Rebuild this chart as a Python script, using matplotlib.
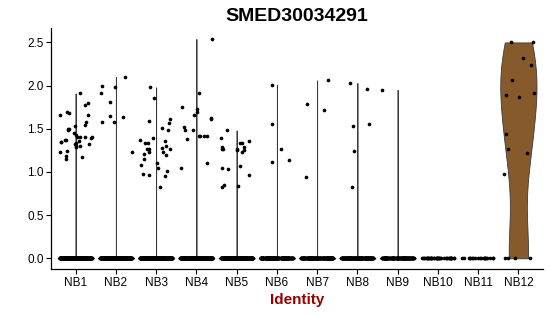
import numpy as np
import matplotlib
matplotlib.use('Agg')
import matplotlib.pyplot as plt

plt.rcParams['font.family'] = ['Liberation Sans', 'DejaVu Sans']

# identidades y expresion (valores no nulos)
idents = ['NB1', 'NB2', 'NB3', 'NB4', 'NB5', 'NB6', 'NB7', 'NB8', 'NB9', 'NB10', 'NB11', 'NB12']

nb1 = [1.91, 1.80, 1.78, 1.70, 1.68, 1.66, 1.66, 1.58, 1.54, 1.53, 1.50, 1.50, 1.48, 1.45,
       1.43, 1.41, 1.41, 1.41, 1.41, 1.39, 1.37, 1.37, 1.36, 1.35, 1.35, 1.33, 1.32, 1.32,
       1.30, 1.30, 1.29, 1.24, 1.23, 1.19, 1.17, 1.15]
nb2 = [2.10, 2.00, 1.98, 1.92, 1.81, 1.65, 1.64, 1.58, 1.58, 1.23]
nb3 = [1.98, 1.86, 1.61, 1.59, 1.57, 1.51, 1.49, 1.39, 1.37, 1.36, 1.34, 1.33, 1.30, 1.28,
       1.27, 1.26, 1.26, 1.23, 1.23, 1.21, 1.20, 1.15, 1.10, 1.08, 1.05, 1.01, 0.98, 0.96,
       0.95, 0.83]
nb4 = [2.54, 1.92, 1.75, 1.73, 1.70, 1.66, 1.63, 1.61, 1.52, 1.49, 1.49, 1.42, 1.42, 1.42,
       1.42, 1.38, 1.10, 1.05]
nb5 = [1.48, 1.39, 1.36, 1.34, 1.33, 1.29, 1.29, 1.27, 1.26, 1.26, 1.25, 1.25, 1.23, 1.07,
       1.05, 1.03, 0.96, 0.85, 0.84, 0.82]
nb6 = [2.01, 1.55, 1.27, 1.14, 1.11]
nb7 = [2.06, 1.79, 1.72, 0.94]
nb8 = [2.03, 1.96, 1.55, 1.53, 1.24, 0.83]
nb9 = [1.95]
nb10 = []
nb11 = []
nb12 = [2.50, 2.50, 2.32, 2.24, 2.07, 1.91, 1.89, 1.87, 1.44, 1.27, 1.22, 0.98]

# celulas con expresion 0 en cada identidad
n_zeros = [300, 260, 300, 280, 260, 180, 170, 170, 140, 40, 20, 4]

groups = [nb1, nb2, nb3, nb4, nb5, nb6, nb7, nb8, nb9, nb10, nb11, nb12]
colores = ['#F8766D', '#DE8C00', '#B79F00', '#7CAE00', '#00BA38', '#00C08B',
           '#00BFC4', '#00B4F0', '#619CFF', '#C77CFF', '#F564E3', '#875A2B']


def densidad(vals):
    # como density(bw = "nrd0") de R, recortado a [min, max]
    x = np.asarray(vals, float)
    n = len(x)
    sd = x.std(ddof=1)
    q1, q3 = np.percentile(x, [25, 75])
    lo = min(sd, (q3 - q1) / 1.34) or 1e-5  # Seurat añade ruido minimo -> bw diminuto
    bw = 0.9 * lo * n ** -0.2
    grid = np.linspace(x.min(), x.max(), 512)
    d = np.exp(-0.5 * ((grid[:, None] - x[None, :]) / bw) ** 2).sum(axis=1)
    return grid, d / d.max()


fig = plt.figure(figsize=(5.5, 3.16), dpi=100)
ax = fig.add_axes([0.0936, 0.1487, 0.8928, 0.7627])

rng = np.random.default_rng(7)
for i, (vals, nz) in enumerate(zip(groups, n_zeros)):
    pos = i + 1
    datos = np.array(list(vals) + [0.0] * nz)
    if datos.max() > 0:
        y, w = densidad(datos)
        ax.fill_betweenx(y, pos - 0.45 * w, pos + 0.45 * w, facecolor=colores[i],
                         edgecolor='#3a3a3a', linewidth=0.6, zorder=1)
    jit = rng.uniform(-0.4, 0.4, len(datos))
    ax.scatter(pos + jit, datos, s=7, color='black', linewidths=0, zorder=3)

ax.set_xlim(0.4, 12.6)
ax.set_ylim(-0.124, 2.667)
ax.set_xticks(range(1, 13))
ax.set_xticklabels(idents)
ax.set_yticks([0, 0.5, 1.0, 1.5, 2.0, 2.5])
ax.set_yticklabels(['0.0', '0.5', '1.0', '1.5', '2.0', '2.5'])
ax.tick_params(labelsize=8.5, length=3.5, width=0.8, colors='black', pad=2)
for s in ['top', 'right']:
    ax.spines[s].set_visible(False)
for s in ['left', 'bottom']:
    ax.spines[s].set_linewidth(0.9)

ax.set_title('SMED30034291', fontsize=14, fontweight='bold', pad=5)
ax.set_xlabel('Identity', fontsize=11, fontweight='bold', color='#990000', labelpad=3)

fig.savefig('out.png', dpi=100)
